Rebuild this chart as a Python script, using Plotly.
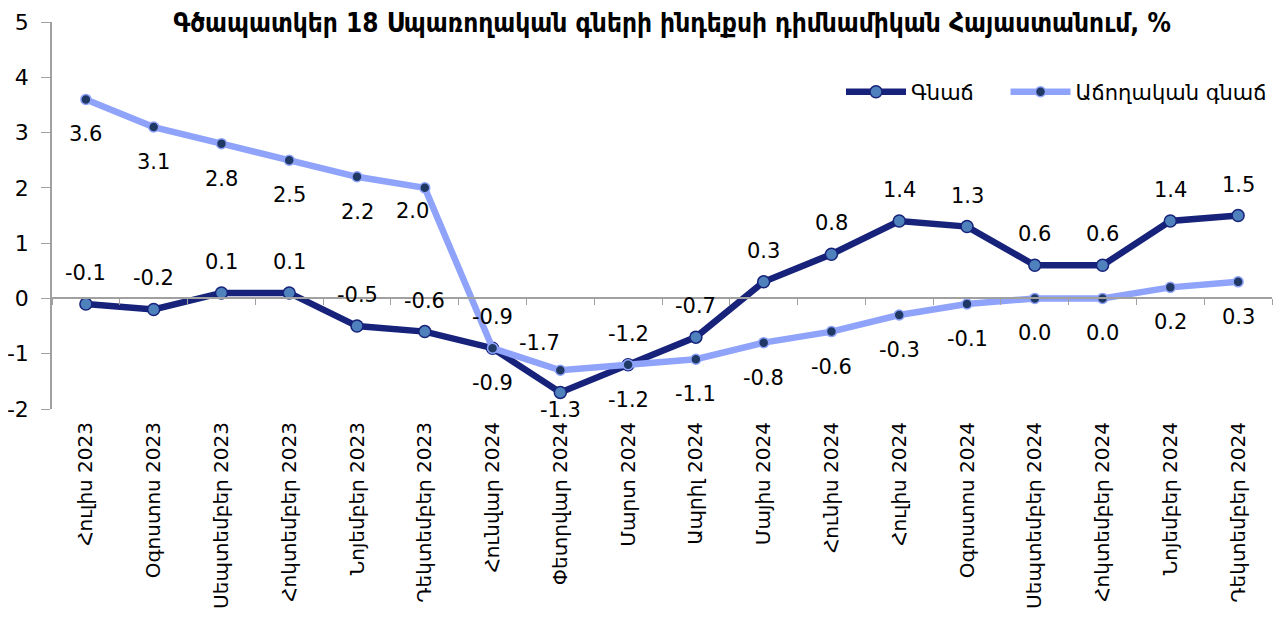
import plotly.graph_objects as go

months = ["Հուլիս 2023", "Օգոստոս 2023", "Սեպտեմբեր 2023", "Հոկտեմբեր 2023",
          "Նոյեմբեր 2023", "Դեկտեմբեր 2023", "Հունվար 2024", "Փետրվար 2024",
          "Մարտ 2024", "Ապրիլ 2024", "Մայիս 2024", "Հունիս 2024", "Հուլիս 2024",
          "Օգոստոս 2024", "Սեպտեմբեր 2024", "Հոկտեմբեր 2024", "Նոյեմբեր 2024",
          "Դեկտեմբեր 2024"]
inflation = [-0.1, -0.2, 0.1, 0.1, -0.5, -0.6, -0.9, -1.7, -1.2, -0.7, 0.3, 0.8,
             1.4, 1.3, 0.6, 0.6, 1.4, 1.5]
cumulative = [3.6, 3.1, 2.8, 2.5, 2.2, 2.0, -0.9, -1.3, -1.2, -1.1, -0.8, -0.6,
              -0.3, -0.1, 0.0, 0.0, 0.2, 0.3]
y_ticks = [-2, -1, 0, 1, 2, 3, 4, 5]
series_names = ["Գնաճ", "Աճողական գնաճ"]

title = "Գծապատկեր 18 Սպառողական գների ինդեքսի դիմնամիկան Հայաստանում, %"
font_main = "DejaVu Sans"

# label placement (pixel shifts), default + a few manual exceptions as in the source
dark_shift = {7: (-21, -49)}
light_shift = {5: (-12, 23), 7: (0, 40)}
DARK_DY, LIGHT_DY = 31, -35

xs = list(range(len(months)))
boundaries = [i - 0.5 for i in range(len(months) + 1)]


def fmt(v):
    return f"{v:.1f}".replace("\u2212", "-")


fig = go.Figure()
fig.add_trace(go.Scatter(
    x=xs, y=inflation, name=series_names[0] + "\u00a0" * 4, mode="lines+markers",
    line=dict(color="#17237a", width=6.5),
    marker=dict(size=12, color="#4f81bd", line=dict(color="#17237a", width=1.5)),
))
fig.add_trace(go.Scatter(
    x=xs, y=cumulative, name=series_names[1], mode="lines+markers",
    line=dict(color="#8fa3fb", width=6.5),
    marker=dict(size=10, color="#1f3864", line=dict(color="#8fa3fb", width=1.5)),
))
# invisible trace to anchor the zero-line axis
fig.add_trace(go.Scatter(x=[xs[0]], y=[0], xaxis="x2", mode="markers",
                         marker=dict(opacity=0), showlegend=False, hoverinfo="skip"))

annotations = []
for i, v in enumerate(inflation):
    dx, dy = dark_shift.get(i, (0, -DARK_DY))
    annotations.append(dict(x=i, y=v, text=fmt(v), showarrow=False,
                            xshift=dx, yshift=-dy,
                            font=dict(size=21, family=font_main, color="#000000")))
for i, v in enumerate(cumulative):
    dx, dy = light_shift.get(i, (0, -LIGHT_DY))
    annotations.append(dict(x=i, y=v, text=fmt(v), showarrow=False,
                            xshift=dx, yshift=-dy,
                            font=dict(size=21, family=font_main, color="#000000")))

fig.update_layout(
    width=1273, height=617,
    margin=dict(l=44, r=9, t=14, b=216, autoexpand=False),
    paper_bgcolor="white", plot_bgcolor="white",
    font=dict(family=font_main, color="#000000"),
    title=dict(text=f"<b>{title}</b>", x=0.5216, xanchor="center", y=0.99,
               yanchor="top",
               font=dict(family="DejaVu Sans Condensed", size=26, color="#000000")),
    showlegend=True,
    legend=dict(orientation="h", x=1.0, xanchor="right", y=0.819, yanchor="middle",
                font=dict(size=21, family=font_main), bgcolor="rgba(0,0,0,0)",
                itemwidth=60, traceorder="normal"),
    annotations=annotations,
    xaxis=dict(range=[-0.5, len(months) - 0.5], tickmode="array", tickvals=xs,
               ticktext=months, tickangle=-90, showline=False, showgrid=False,
               zeroline=False, ticks="", automargin=False, ticklabelstandoff=8,
               tickfont=dict(size=20, family=font_main)),
    xaxis2=dict(overlaying="x", anchor="free", position=2 / 7,
                range=[-0.5, len(months) - 0.5], tickmode="array",
                tickvals=boundaries, ticks="outside", ticklen=6, tickcolor="#a0a0a0",
                showticklabels=False, showline=True, linecolor="#a0a0a0",
                linewidth=1.5, showgrid=False, zeroline=False, automargin=False),
    yaxis=dict(range=[-2, 5], tickmode="array", tickvals=y_ticks,
               ticktext=[str(t) for t in y_ticks],
               ticks="outside", ticklen=9, tickcolor="#a0a0a0",
               showline=True, linecolor="#a0a0a0", linewidth=1.5,
               showgrid=False, zeroline=False, automargin=False,
               ticklabelstandoff=8, ticklabeloverflow="allow",
               tickfont=dict(size=22, family=font_main)),
)

fig.write_html("out.html")
